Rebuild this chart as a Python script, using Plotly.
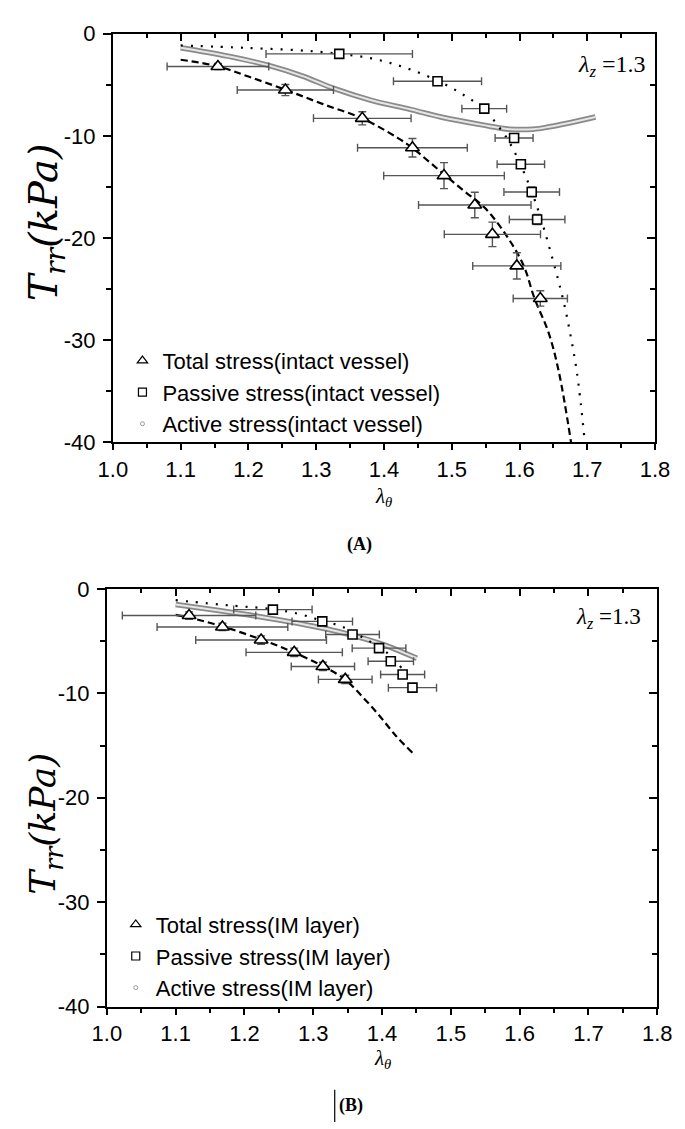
import plotly.graph_objects as go

# ---------------- data: panel A (intact vessel) ----------------
a_tot_x = [1.155, 1.2545, 1.368, 1.442, 1.4886, 1.534, 1.560, 1.596, 1.6307]
a_tot_y = [-3.22, -5.52, -8.29, -11.17, -13.9, -16.78, -19.65, -22.74, -25.93]
a_tot_xerr = [0.075, 0.071, 0.072, 0.081, 0.089, 0.083, 0.071, 0.065, 0.040]
a_tot_yerr = [0.3, 0.55, 0.64, 0.9, 1.27, 1.25, 1.2, 1.28, 0.75]

a_pas_x = [1.334, 1.479, 1.548, 1.592, 1.602, 1.618, 1.626]
a_pas_y = [-1.98, -4.66, -7.34, -10.21, -12.79, -15.5, -18.2]
a_pas_xerr = [0.108, 0.065, 0.033, 0.028, 0.035, 0.041, 0.041]
a_pas_yerr = [0.3, 0.3, 0.35, 0.3, 0.3, 0.48, 0.5]

a_totfit_x = [1.1, 1.155, 1.2, 1.255, 1.31, 1.368, 1.42, 1.442, 1.489, 1.52, 1.548, 1.58, 1.606, 1.622, 1.643, 1.658, 1.676]
a_totfit_y = [-2.55, -3.2, -4.2, -5.5, -6.9, -8.3, -10.2, -11.2, -13.8, -15.5, -17.0, -19.7, -22.7, -25.9, -29.3, -33.1, -40]

a_pasfit_x = [1.1, 1.2, 1.3, 1.38, 1.43, 1.479, 1.52, 1.548, 1.568, 1.583, 1.60, 1.617, 1.632, 1.653, 1.666, 1.676, 1.685, 1.6964]
a_pasfit_y = [-1.15, -1.4, -1.75, -2.4, -3.3, -4.6, -6.1, -7.4, -9.0, -10.4, -12.6, -15.3, -18.2, -23.1, -26.5, -29.8, -33.3, -40]

a_act_x = [1.1, 1.17, 1.231, 1.28, 1.326, 1.38, 1.44, 1.484, 1.545, 1.585, 1.62, 1.644, 1.669, 1.712]
a_act_y = [-1.37, -2.2, -3.13, -4.15, -5.36, -6.5, -7.43, -8.16, -8.93, -9.35, -9.35, -9.12, -8.8, -8.16]

# ---------------- data: panel B (IM layer) ----------------
b_tot_x = [1.1195, 1.168, 1.2242, 1.2723, 1.314, 1.3465]
b_tot_y = [-2.56, -3.65, -4.90, -6.08, -7.43, -8.67]
b_tot_xerr = [0.097, 0.095, 0.095, 0.070, 0.046, 0.039]
b_tot_yerr = [0.35, 0.35, 0.4, 0.4, 0.4, 0.4]

b_pas_x = [1.2413, 1.3131, 1.3571, 1.3956, 1.4127, 1.4299, 1.4442]
b_pas_y = [-1.99, -3.12, -4.37, -5.68, -6.93, -8.20, -9.46]
b_pas_xerr = [0.057, 0.044, 0.039, 0.039, 0.033, 0.032, 0.035]
b_pas_yerr = [0.3, 0.3, 0.3, 0.3, 0.3, 0.3, 0.3]

b_totfit_x = [1.1, 1.1195, 1.168, 1.2242, 1.2723, 1.314, 1.3465, 1.3733, 1.3965, 1.4197, 1.4451]
b_totfit_y = [-2.5, -2.75, -3.6, -4.85, -6.1, -7.4, -8.7, -10.46, -12.17, -14.04, -15.76]

b_pasfit_x = [1.1, 1.1834, 1.2413, 1.2807, 1.3131, 1.341, 1.3594, 1.3965, 1.4197, 1.438]
b_pasfit_y = [-1.09, -1.62, -1.95, -2.43, -3.06, -3.59, -4.21, -5.62, -6.86, -8.58]

b_act_x = [1.1, 1.16, 1.216, 1.276, 1.32, 1.357, 1.3956, 1.4127, 1.4507]
b_act_y = [-1.5, -2.05, -2.6, -3.27, -3.85, -4.45, -5.2, -5.6, -6.65]

# ---------------- axes ticks / labels ----------------
x_range = [1.0, 1.8]
y_range = [-40, 0]
y_tickvals = [-40, -30, -20, -10, 0]
y_ticktext = ["-40", "-30", "-20", "-10", "0"]

names_a = ["Total stress(intact vessel)", "Passive stress(intact vessel)", "Active stress(intact vessel)"]
names_b = ["Total stress(IM layer)", "Passive stress(IM layer)", "Active stress(IM layer)"]

W, H = 685, 1129
def px(v):
    return v / W
def py(v):
    return 1 - v / H

ERR_COL = "#555555"
fig = go.Figure()

def add_panel(xa, ya, tot_x, tot_y, tot_xe, tot_ye, pas_x, pas_y, pas_xe, pas_ye,
              tf_x, tf_y, pf_x, pf_y, ac_x, ac_y, names, legend):
    # active stress band (chain of small circles)
    fig.add_trace(go.Scatter(x=ac_x, y=ac_y, mode="lines", xaxis=xa, yaxis=ya,
                             line=dict(color="#8a8a8a", width=5.5, shape="spline"),
                             showlegend=False, hoverinfo="skip"))
    fig.add_trace(go.Scatter(x=ac_x, y=ac_y, mode="lines", xaxis=xa, yaxis=ya,
                             line=dict(color="#e6e6e6", width=2, shape="spline"),
                             showlegend=False, hoverinfo="skip"))
    # passive fit (dotted)
    fig.add_trace(go.Scatter(x=pf_x, y=pf_y, mode="lines", xaxis=xa, yaxis=ya,
                             line=dict(color="black", width=2.2, dash="2px,8px", shape="spline"),
                             showlegend=False))
    # total fit (dashed)
    fig.add_trace(go.Scatter(x=tf_x, y=tf_y, mode="lines", xaxis=xa, yaxis=ya,
                             line=dict(color="black", width=2.2, dash="7px,4px", shape="spline"),
                             showlegend=False))
    # passive data
    fig.add_trace(go.Scatter(x=pas_x, y=pas_y, mode="markers", xaxis=xa, yaxis=ya,
                             marker=dict(symbol="square", size=9, color="white",
                                         line=dict(color="black", width=1.6)),
                             error_x=dict(type="data", array=pas_xe, color=ERR_COL, thickness=1.4, width=4),
                             error_y=dict(type="data", array=pas_ye, color=ERR_COL, thickness=1.4, width=4),
                             showlegend=False))
    # total data
    fig.add_trace(go.Scatter(x=tot_x, y=tot_y, mode="markers", xaxis=xa, yaxis=ya,
                             marker=dict(symbol="triangle-up", size=12, color="white",
                                         line=dict(color="black", width=1.6)),
                             error_x=dict(type="data", array=tot_xe, color=ERR_COL, thickness=1.4, width=4),
                             error_y=dict(type="data", array=tot_ye, color=ERR_COL, thickness=1.4, width=4),
                             showlegend=False))
    # legend entries
    fig.add_trace(go.Scatter(x=[None], y=[None], mode="markers", xaxis=xa, yaxis=ya, name=names[0],
                             legend=legend,
                             marker=dict(symbol="triangle-up-open", size=9, color="black", line=dict(width=1.2))))
    fig.add_trace(go.Scatter(x=[None], y=[None], mode="markers", xaxis=xa, yaxis=ya, name=names[1],
                             legend=legend,
                             marker=dict(symbol="square-open", size=8, color="black", line=dict(width=1.2))))
    fig.add_trace(go.Scatter(x=[None], y=[None], mode="markers", xaxis=xa, yaxis=ya, name=names[2],
                             legend=legend,
                             marker=dict(symbol="circle-open", size=4, color="#999999", line=dict(width=1))))

add_panel("x", "y", a_tot_x, a_tot_y, a_tot_xerr, a_tot_yerr, a_pas_x, a_pas_y, a_pas_xerr, a_pas_yerr,
          a_totfit_x, a_totfit_y, a_pasfit_x, a_pasfit_y, a_act_x, a_act_y, names_a, "legend")
add_panel("x2", "y2", b_tot_x, b_tot_y, b_tot_xerr, b_tot_yerr, b_pas_x, b_pas_y, b_pas_xerr, b_pas_yerr,
          b_totfit_x, b_totfit_y, b_pasfit_x, b_pasfit_y, b_act_x, b_act_y, names_b, "legend2")

# dummy traces so the mirrored (inside-tick) axes are drawn
fig.add_trace(go.Scatter(x=[None], y=[None], xaxis="x3", yaxis="y3", showlegend=False, hoverinfo="skip"))
fig.add_trace(go.Scatter(x=[None], y=[None], xaxis="x4", yaxis="y4", showlegend=False, hoverinfo="skip"))

TICKFONT = dict(family="Liberation Sans, Arial", size=22, color="black")

def xaxis_main(domain, anchor):
    return dict(domain=domain, anchor=anchor, range=x_range, dtick=0.1, tick0=1.0, tickformat=".1f",
                showgrid=False, zeroline=False, showline=True, linecolor="black", linewidth=2,
                mirror=True, ticks="outside", ticklen=6, tickwidth=1.8, tickcolor="black",
                minor=dict(dtick=0.05, ticks="outside", ticklen=4, tickwidth=1.5, tickcolor="black"),
                tickfont=TICKFONT)

def yaxis_main(domain, anchor):
    return dict(domain=domain, anchor=anchor, range=y_range, tickmode="array",
                tickvals=y_tickvals, ticktext=y_ticktext,
                showgrid=False, zeroline=False, showline=True, linecolor="black", linewidth=2,
                mirror=True, ticks="outside", ticklen=8, tickwidth=1.8, tickcolor="black",
                minor=dict(dtick=5, ticks="outside", ticklen=5, tickwidth=1.5, tickcolor="black"),
                ticklabelstandoff=3, tickfont=TICKFONT)

def xaxis_top(over, anchor):
    return dict(overlaying=over, anchor=anchor, side="top", range=x_range, dtick=0.1, tick0=1.0,
                showticklabels=False, showgrid=False, zeroline=False, showline=False,
                ticks="inside", ticklen=7, tickwidth=1.8, tickcolor="black",
                minor=dict(dtick=0.05, ticks="inside", ticklen=4, tickwidth=1.5, tickcolor="black"))

def yaxis_right(over, anchor):
    return dict(overlaying=over, anchor=anchor, side="right", range=y_range, dtick=10,
                showticklabels=False, showgrid=False, zeroline=False, showline=False,
                ticks="inside", ticklen=8, tickwidth=1.8, tickcolor="black",
                minor=dict(dtick=5, ticks="inside", ticklen=5, tickwidth=1.5, tickcolor="black"))

xa_dom = [px(94), px(661)]
ya_dom = [py(431.7), py(14)]
xb_dom = [px(87.7), px(663.3)]
yb_dom = [py(1009), py(581.7)]

LEGFONT = dict(family="Liberation Sans, Arial", size=22, color="black")

fig.update_layout(
    width=W, height=H, margin=dict(l=0, r=0, t=0, b=0),
    paper_bgcolor="white", plot_bgcolor="white",
    xaxis=xaxis_main(xa_dom, "y"), yaxis=yaxis_main(ya_dom, "x"),
    xaxis2=xaxis_main(xb_dom, "y2"), yaxis2=yaxis_main(yb_dom, "x2"),
    xaxis3=xaxis_top("x", "y"), yaxis3=yaxis_right("y", "x"),
    xaxis4=xaxis_top("x2", "y2"), yaxis4=yaxis_right("y2", "x2"),
    legend=dict(x=px(104), y=py(380.7), xanchor="left", yanchor="middle", font=LEGFONT,
                bgcolor="rgba(0,0,0,0)", itemwidth=30, tracegroupgap=0),
    legend2=dict(x=px(97), y=py(957.3), xanchor="left", yanchor="middle", font=LEGFONT,
                 bgcolor="rgba(0,0,0,0)", itemwidth=30, tracegroupgap=0),
    showlegend=True,
)

SERIF = "Liberation Serif, Times New Roman"
ann = []
# y-axis titles
for yc, fs in ((207, 40), (822, 36)):
    ann.append(dict(x=px(24), y=py(yc), xref="paper", yref="paper", showarrow=False,
                    text="<i>T</i><sub><i>rr</i></sub><i>(kPa)</i>", textangle=-90,
                    font=dict(family="DejaVu Serif", size=fs, color="black"),
                    xanchor="center", yanchor="middle"))
# x-axis titles
for xc, yc in ((377.5, 488), (375.5, 1063)):
    ann.append(dict(x=px(xc), y=py(yc), xref="paper", yref="paper", showarrow=False,
                    text="<i>λ</i><sub><i>θ</i></sub>",
                    font=dict(family=SERIF, size=21, color="black"),
                    xanchor="center", yanchor="middle"))
# lambda_z annotations
for xr, yc, fs in ((653, 47, 24), (648, 612, 23)):
    ann.append(dict(x=px(xr), y=py(yc), xref="paper", yref="paper", showarrow=False,
                    text="<i>λ</i><sub><i>z</i></sub> =1.3",
                    font=dict(family=SERIF, size=fs, color="black"),
                    xanchor="right", yanchor="middle"))
# panel labels
ann.append(dict(x=px(352), y=py(536), xref="paper", yref="paper", showarrow=False,
                text="<b>(A)</b>", font=dict(family=SERIF, size=18, color="black"),
                xanchor="center", yanchor="middle"))
ann.append(dict(x=px(343), y=py(1110), xref="paper", yref="paper", showarrow=False,
                text="<b>(B)</b>", font=dict(family=SERIF, size=18, color="black"),
                xanchor="center", yanchor="middle"))
fig.update_layout(annotations=ann)

fig.add_shape(type="line", xref="paper", yref="paper", x0=px(326), x1=px(326), y0=py(1094), y1=py(1127),
              line=dict(color="black", width=1.2))

fig.write_html("out.html")
